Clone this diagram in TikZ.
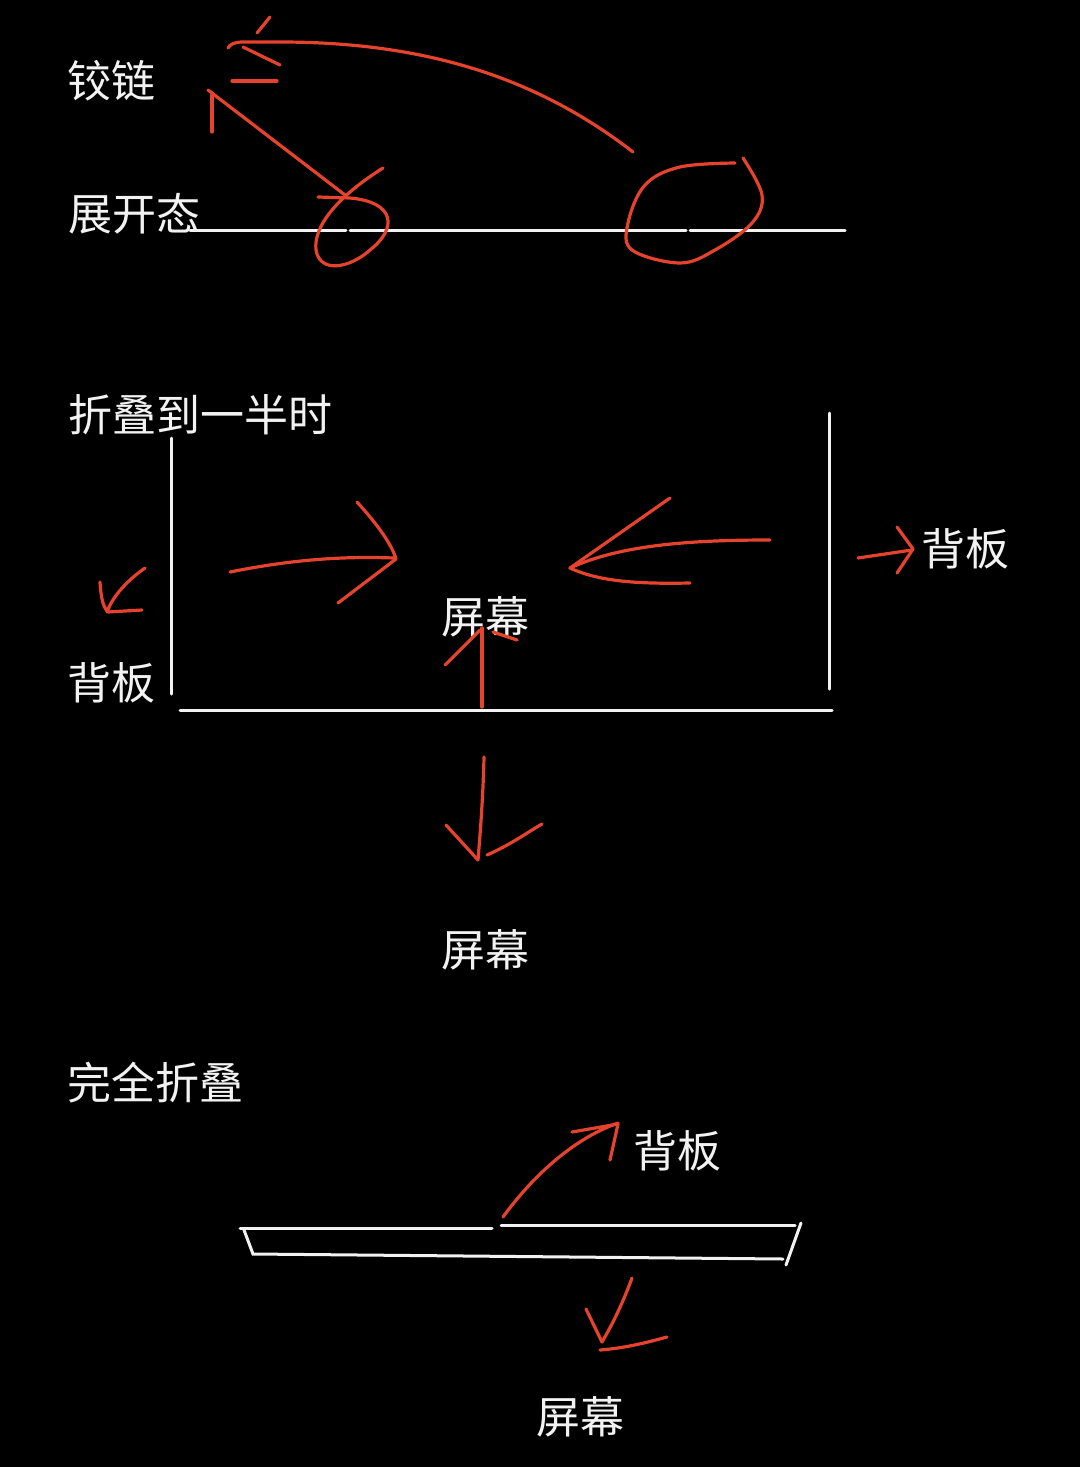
\documentclass[tikz,border=0pt]{standalone}
\usepackage{fontspec}
\newfontfamily\cjk{Noto Sans CJK SC}
\definecolor{ink}{HTML}{E5432D}
\definecolor{chalk}{HTML}{F2F2F2}
\begin{document}
\begin{tikzpicture}[x=1pt,y=-1pt,
  lbl/.style={text=chalk,inner sep=0pt,font=\cjk\fontsize{44pt}{44pt}\selectfont},
  redline/.style={draw=ink,line width=3.2pt,line cap=round,line join=round},
  whiteline/.style={draw=chalk,line width=3pt,line cap=round}]
\fill[black,use as bounding box] (0,0) rectangle (1080,1467);

% ---------- labels ----------
\node[lbl] (jl) at (111,81) {铰链};
\node[lbl] (zkt) at (134,214) {展开态};
\node[lbl] (zdb) at (200,415) {折叠到一半时};
\node[lbl] (bbL) at (111,683) {背板};
\node[lbl] (pmM) at (485,617) {屏幕};
\node[lbl] (bbR) at (965,549) {背板};
\node[lbl] (pmB) at (485,950) {屏幕};
\node[lbl] (wqzd) at (155,1083) {完全折叠};
\node[lbl] (bbB) at (677,1151) {背板};
\node[lbl] (pmC) at (580,1417) {屏幕};

% ---------- unfolded state ----------
\draw[whiteline] (190,230) -- (346,230);
\draw[whiteline] (350,230) -- (686,230);
\draw[whiteline] (690,230) -- (845,230);

% small hinge loop
\draw[redline] (318,197) -- (350,198)
  .. controls (395,202) and (398,228) .. (370,250)
  .. controls (350,268) and (320,274) .. (316,250)
  .. controls (313,225) and (340,195) .. (383,168);
% arrow to 铰链
\draw[redline] (345,195) -- (208,90);
\draw[redline] (212,95) -- (212,132);
% big hinge loop
\draw[redline] plot[smooth,tension=0.6] coordinates
  {(735,163) (680,167) (645,185) (628,223) (632,250) (680,263) (715,250) (752,223) (762,195) (743,158)};
% long curve to hinge label
\draw[redline] (633,152) .. controls (540,80) and (430,42) .. (280,42)
  -- (243,42) .. controls (235,42) and (230,44) .. (228,48);
\draw[redline] (257,33) -- (270,17);
\draw[redline] (243,47) -- (280,65);
\draw[redline] (232,81) -- (277,81);

% ---------- half folded ----------
\draw[whiteline] (171,438) -- (171,694);
\draw[whiteline] (829,413) -- (829,689);
\draw[whiteline] (180,710) -- (832,710);

% right-pointing arrow
\draw[redline] (230,572) .. controls (290,560) and (340,556) .. (394,558);
\draw[redline] (357,502) .. controls (378,525) and (392,545) .. (396,559) -- (338,603);
% left-pointing arrow
\draw[redline] (770,540) .. controls (690,540) and (620,545) .. (570,568);
\draw[redline] (670,498) -- (570,568) .. controls (600,582) and (640,584) .. (690,583);
% arrow to right 背板
\draw[redline] (858,558) -- (912,550);
\draw[redline] (897,527) -- (913,549) -- (897,573);
% arrow near left 背板
\draw[redline] (145,568) .. controls (125,582) and (112,598) .. (107,612);
\draw[redline] (100,582) .. controls (101,598) and (103,607) .. (108,612) -- (142,610);
% up arrow under 屏幕
\draw[redline] (482,707) -- (482,628);
\draw[redline] (445,665) -- (480,630);
\draw[redline] (493,632) -- (517,640);
% down arrow
\draw[redline] (484,757) .. controls (483,800) and (480,835) .. (478,860);
\draw[redline] (446,825) -- (478,860);
\draw[redline] (487,855) .. controls (510,845) and (528,832) .. (542,824);

% ---------- fully folded ----------
\draw[whiteline] (240,1228) -- (492,1228);
\draw[whiteline] (501,1225) -- (795,1225);
\draw[whiteline] (244,1230) -- (253,1254) -- (783,1259);
\draw[whiteline] (801,1223) -- (786,1265);

% up-right curved arrow
\draw[redline] (503,1217) .. controls (530,1180) and (570,1140) .. (618,1123);
\draw[redline] (572,1132) -- (618,1124) -- (610,1160);
% down-left arrow
\draw[redline] (632,1278) .. controls (622,1305) and (612,1325) .. (602,1342);
\draw[redline] (586,1309) -- (602,1342);
\draw[redline] (600,1350) .. controls (625,1348) and (645,1343) .. (667,1337);
\end{tikzpicture}
\end{document}
